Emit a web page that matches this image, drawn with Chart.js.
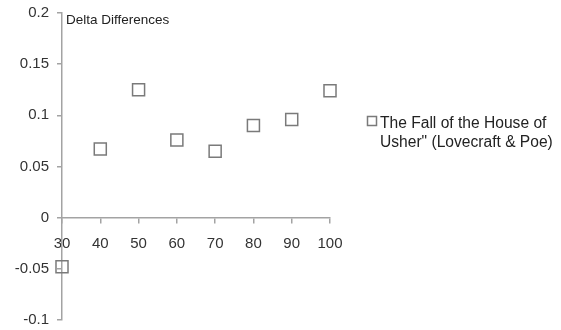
<!DOCTYPE html>
<html>
<head>
<meta charset="utf-8">
<script src="https://cdn.jsdelivr.net/npm/chart.js@4"></script>
<style>
  html, body { margin: 0; padding: 0; background: #fff; }
  #wrap { width: 561px; height: 330px; position: relative; }
</style>
</head>
<body>
<div id="wrap"><canvas id="chart" width="561" height="330"></canvas></div>
<script>
// ── Data ──────────────────────────────────────────────────────────────
const xValues   = [30, 40, 50, 60, 70, 80, 90, 100];
const deltas    = [-0.048, 0.067, 0.125, 0.076, 0.065, 0.090, 0.096, 0.124];
const seriesName = ['The Fall of the House of', 'Usher" (Lovecraft & Poe)'];
const chartTitle = 'Delta Differences';

const FONT = '"Liberation Sans", Arial, sans-serif';
const AXIS = '#a3a3a3';
const MARK = '#7a7a7a';

// title + legend drawn straight onto the canvas
const annotations = {
  id: 'annotations',
  afterDraw(chart) {
    const ctx = chart.ctx;
    ctx.save();
    ctx.fillStyle = '#222';
    ctx.textBaseline = 'alphabetic';
    ctx.font = `13.5px ${FONT}`;
    ctx.fillText(chartTitle, 66, 24);

    ctx.strokeStyle = MARK;
    ctx.lineWidth = 1.5;
    ctx.strokeRect(367.5, 116.5, 9, 9);
    ctx.font = `15.6px ${FONT}`;
    ctx.fillText(seriesName[0], 380, 128);
    ctx.fillText(seriesName[1], 380, 147);
    ctx.restore();
  }
};

// keep the plot box fixed: no extra room for half-labels at the ends
const noEndPad = s => { s.paddingTop = 0; s.paddingBottom = 0; s.paddingLeft = 0; s.paddingRight = 0; };

new Chart(document.getElementById('chart'), {
  type: 'scatter',
  data: {
    datasets: [{
      label: seriesName.join(' '),
      data: xValues.map((x, i) => ({ x, y: deltas[i] })),
      pointStyle: 'rect',
      pointRadius: 8.5,
      pointHoverRadius: 8.5,
      backgroundColor: 'rgba(0,0,0,0)',
      borderColor: MARK,
      borderWidth: 1.5,
      clip: false
    }]
  },
  options: {
    responsive: false,
    animation: false,
    layout: { padding: { left: 0, top: 13, right: 561 - 330, bottom: 10 } },
    plugins: { legend: { display: false }, tooltip: { enabled: false } },
    scales: {
      x: {
        type: 'linear',
        position: { y: 0 },
        min: 30, max: 100,
        afterFit: s => { s.height = 0; noEndPad(s); },
        grid: { drawOnChartArea: false, color: AXIS, lineWidth: 1.5, tickLength: 5 },
        border: { color: AXIS, width: 1.5 },
        ticks: { stepSize: 10, padding: 12, color: '#333', font: { family: FONT, size: 15 } }
      },
      y: {
        min: -0.1, max: 0.2,
        afterFit: s => { s.width = 62; noEndPad(s); },
        grid: { drawOnChartArea: false, color: AXIS, lineWidth: 1.5, tickLength: 5 },
        border: { color: AXIS, width: 1.5 },
        ticks: {
          stepSize: 0.05, padding: 8, color: '#333', font: { family: FONT, size: 15 },
          callback: v => String(+v.toFixed(2))
        }
      }
    }
  },
  plugins: [annotations]
});
</script>
</body>
</html>
